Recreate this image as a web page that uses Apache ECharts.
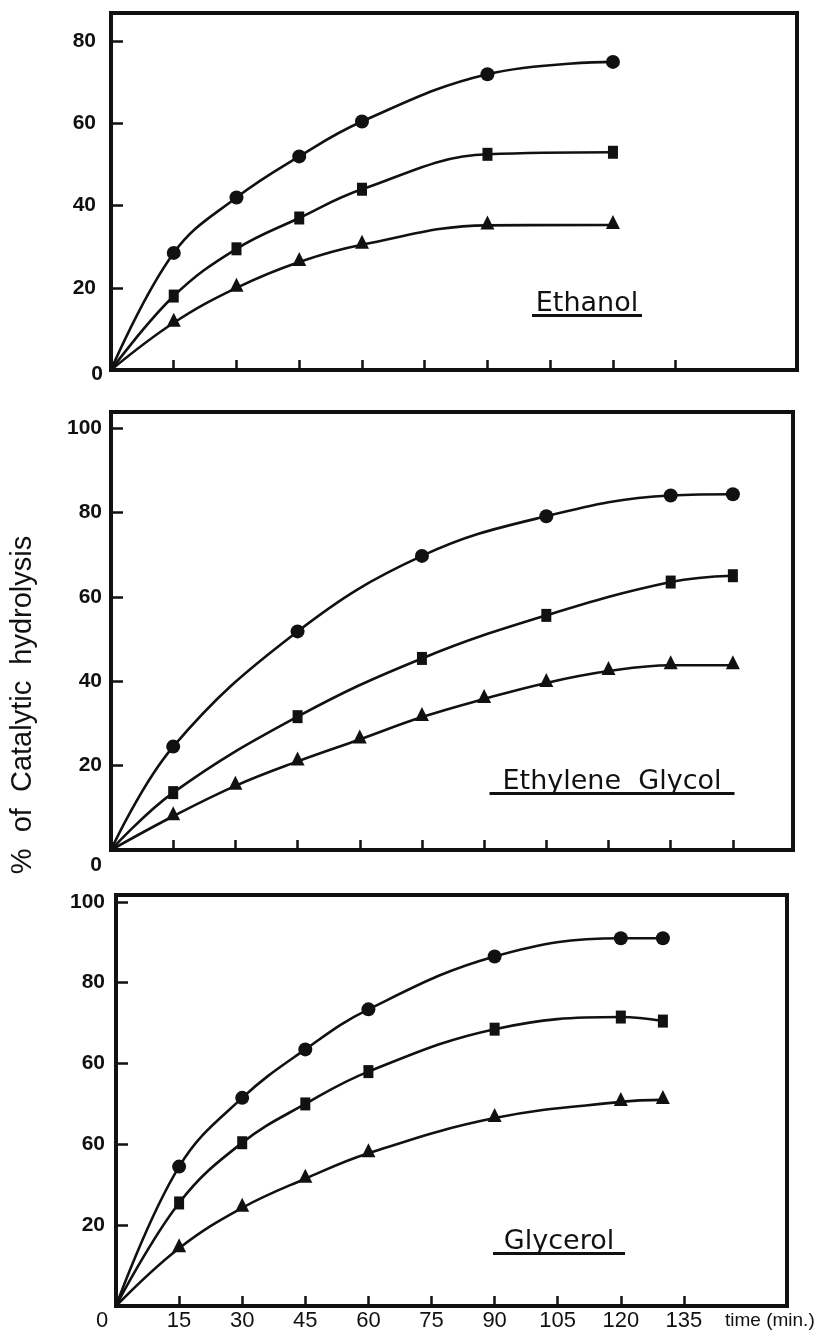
<!DOCTYPE html>
<html><head><meta charset="utf-8">
<script src="https://cdn.jsdelivr.net/npm/echarts@6/dist/echarts.min.js"></script>
<style>html,body{margin:0;padding:0;background:#fff}#c{width:835px;height:1336px}</style>
</head><body><div id="c"></div>
<script>
// ---- text ----
const panelNames = ['Ethanol', 'Ethylene  Glycol', 'Glycerol'];
const yTitle = '%  of  Catalytic  hydrolysis';
const xName = 'time (min.)';

// ---- Ethanol ----
const ethanolTime = [15, 30, 45, 60, 90, 120];
const ethanolCircle = [28.5, 42, 52, 60.5, 72, 75];
const ethanolSquare = [18, 29.5, 37, 44, 52.5, 53];
const ethanolTriangle = [11.5, 20, 26.3, 30.5, 35.2, 35.3];

// ---- Ethylene Glycol ----
const glycolCircleTime = [15, 45, 75, 105, 135, 150];
const glycolCircle = [24.5, 51.8, 69.7, 79.1, 84, 84.3];
const glycolSquareTime = [15, 45, 75, 105, 135, 150];
const glycolSquare = [13.6, 31.6, 45.4, 55.6, 63.5, 65];
const glycolTriangleTime = [15, 30, 45, 60, 75, 90, 105, 120, 135, 150];
const glycolTriangle = [8, 15.2, 21, 26.2, 31.5, 35.8, 39.6, 42.4, 43.8, 43.8];

// ---- Glycerol ----
const glycerolTime = [15, 30, 45, 60, 90, 120, 130];
const glycerolCircle = [34.5, 51.5, 63.5, 73.4, 86.5, 91, 91];
const glycerolSquare = [25.5, 40.4, 50, 58, 68.5, 71.5, 70.5];
const glycerolTriangle = [14.3, 24.3, 31.5, 37.8, 46.5, 50.5, 51];

// ---- ticks ----
const ethanolYTicks = [0, 20, 40, 60, 80];
const glycolYTicks = [0, 20, 40, 60, 80, 100];
const glycerolYTicks = [0, 20, 40, 60, 80, 100];
const glycerolYLabelValues = [20, 40, 60, 80, 100];
const glycerolYLabelTexts = ['20', '60', '60', '80', '100']; // as printed in the original
const ethanolXTicks = [15, 30, 45, 60, 75, 90, 105, 120, 135];
const glycolXTicks = [15, 30, 45, 60, 75, 90, 105, 120, 135, 150];
const glycerolXTicks = [15, 30, 45, 60, 75, 90, 105, 120, 135];
const glycerolXLabels = [0, 15, 30, 45, 60, 75, 90, 105, 120, 135];

const INK = '#111';
const FONT = '"Liberation Sans", Arial, sans-serif';

const grids = [
  { left: 111, right: 38, top: 13, height: 357 },
  { left: 111, right: 42, top: 412, height: 438 },
  { left: 116, right: 48, top: 895, height: 413 }
];
const xMax = [164, 164.5, 159.5];
const yMax = [86.9, 103.8, 101.7];

function yLabelCfg(i) {
  const base = { fontSize: 21, fontWeight: 'bold', fontFamily: FONT, color: INK };
  if (i === 0) {
    return {
      customValues: ethanolYTicks, margin: 8,
      formatter: v => v === 0 ? '{z|0}' : '{a|' + v + '}',
      rich: { a: Object.assign({ padding: [0, 7, 0, 0] }, base), z: Object.assign({ padding: [8, 0, 0, 0] }, base) }
    };
  }
  if (i === 1) {
    return {
      customValues: glycolYTicks, margin: 9,
      formatter: v => v === 0 ? '{z|0}' : '{a|' + v + '}',
      rich: { a: Object.assign({}, base), z: Object.assign({ padding: [30, 0, 0, 0] }, base) }
    };
  }
  return {
    customValues: glycerolYLabelValues, margin: 11,
    formatter: v => '{a|' + glycerolYLabelTexts[glycerolYLabelValues.indexOf(v)] + '}',
    rich: { a: Object.assign({}, base) }
  };
}

const yTickVals = [ethanolYTicks, glycolYTicks, glycerolYTicks];
const xTickVals = [ethanolXTicks, glycolXTicks, glycerolXTicks];

const xAxes = [0, 1, 2].map(i => {
  const ax = {
    type: 'value', gridIndex: i, min: 0, max: xMax[i],
    axisLine: { show: true, onZero: false, lineStyle: { color: INK, width: 4 } },
    axisTick: { show: true, inside: true, length: 10, customValues: xTickVals[i], lineStyle: { color: INK, width: 2.5 } },
    axisLabel: { show: false },
    splitLine: { show: false }
  };
  if (i === 2) {
    const base = { fontSize: 22, fontFamily: FONT, color: INK };
    ax.axisLabel = {
      show: true, customValues: glycerolXLabels, margin: 4,
      formatter: v => v === 0 ? '{z|0}' : '{a|' + v + '}',
      rich: { a: Object.assign({}, base), z: Object.assign({ padding: [0, 28, 0, 0] }, base) }
    };
    ax.name = xName;
    ax.nameLocation = 'end';
    ax.nameGap = -62;
    ax.nameTextStyle = { fontSize: 19, fontFamily: FONT, color: INK, verticalAlign: 'top', lineHeight: 30 };
  }
  return ax;
});

const yAxes = [0, 1, 2].map(i => ({
  type: 'value', gridIndex: i, min: 0, max: yMax[i],
  axisLine: { show: true, onZero: false, lineStyle: { color: INK, width: 4 } },
  axisTick: { show: true, inside: true, length: 12, customValues: yTickVals[i], lineStyle: { color: INK, width: 2.5 } },
  axisLabel: yLabelCfg(i),
  splitLine: { show: false }
}));

function mk(idx, times, vals, symbol, size, offset) {
  return {
    type: 'line', xAxisIndex: idx, yAxisIndex: idx,
    smooth: 0.4, symbol: symbol, symbolSize: size, symbolOffset: offset || [0, 0],
    showSymbol: true, animation: false, silent: true,
    lineStyle: { color: INK, width: 2.6 },
    itemStyle: { color: INK, borderWidth: 0 },
    data: [{ value: [0, 0], symbol: 'none' }].concat(times.map((t, k) => [t, vals[k]]))
  };
}

const series = [
  mk(0, ethanolTime, ethanolCircle, 'circle', 14),
  mk(0, ethanolTime, ethanolSquare, 'rect', [10, 13]),
  mk(0, ethanolTime, ethanolTriangle, 'triangle', 14, [0, -3]),
  mk(1, glycolCircleTime, glycolCircle, 'circle', 14),
  mk(1, glycolSquareTime, glycolSquare, 'rect', [10, 13]),
  mk(1, glycolTriangleTime, glycolTriangle, 'triangle', 14, [0, -3]),
  mk(2, glycerolTime, glycerolCircle, 'circle', 14),
  mk(2, glycerolTime, glycerolSquare, 'rect', [10, 13]),
  mk(2, glycerolTime, glycerolTriangle, 'triangle', 14, [0, -3])
];

const labelPos = [
  { x: 587, y: 317, w: 110 },
  { x: 612, y: 795, w: 245 },
  { x: 559, y: 1255, w: 132 }
];

const graphic = [{
  type: 'text', x: 23, y: 705, rotation: Math.PI / 2, silent: true,
  style: { text: yTitle, fill: INK, font: '29px ' + FONT, align: 'center', verticalAlign: 'middle', textAlign: 'center', textVerticalAlign: 'middle' }
}].concat(panelNames.map((n, i) => ({
  type: 'text', x: labelPos[i].x, y: labelPos[i].y, silent: true,
  style: {
    text: '{t|' + n + '}\n{u| }',
    align: 'center', verticalAlign: 'bottom', textAlign: 'center', textVerticalAlign: 'bottom',
    rich: {
      t: { fontSize: 27, fontFamily: '"DejaVu Sans", sans-serif', fill: INK, color: INK, lineHeight: 21, align: 'center' },
      u: { width: labelPos[i].w, height: 3, lineHeight: 3, fontSize: 1, backgroundColor: INK, align: 'center' }
    }
  }
})));

const chart = echarts.init(document.getElementById('c'), null, { renderer: 'canvas' });
chart.setOption({
  backgroundColor: '#fff',
  animation: false,
  grid: grids.map(g => Object.assign({ show: true, borderColor: INK, borderWidth: 4, backgroundColor: 'transparent' }, g)),
  xAxis: xAxes,
  yAxis: yAxes,
  series: series,
  graphic: graphic
});
</script>
</body></html>
